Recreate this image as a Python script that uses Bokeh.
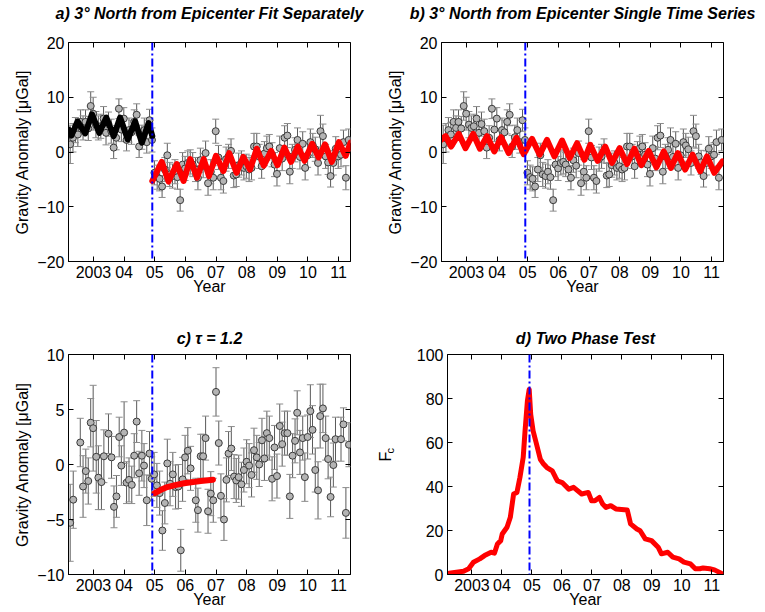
from bokeh.plotting import figure
from bokeh.layouts import column, row
from bokeh.models import (Range1d, FixedTicker, LinearAxis, Span, Whisker,
                          TeeHead, ColumnDataSource)
from bokeh.embed import file_html
from bokeh.resources import INLINE

# ---------------- data ----------------
X_START, X_END = 2002.185, 2011.39
QUAKE = 2004.92

year_ticks = [2003, 2004, 2005, 2006, 2007, 2008, 2009, 2010, 2011]
year_labels = ["2003", "04", "05", "06", "07", "08", "09", "10", "11"]

# monthly gravity anomaly (panels a and b)
t_ab = [2002.24, 2002.33, 2002.41, 2002.49, 2002.58, 2002.66, 2002.74, 2002.83, 2002.91, 2002.99,
        2003.08, 2003.16, 2003.24, 2003.33, 2003.41, 2003.49, 2003.58, 2003.66, 2003.74, 2003.83, 2003.91, 2003.99,
        2004.08, 2004.16, 2004.24, 2004.33, 2004.41, 2004.49, 2004.58, 2004.66, 2004.74, 2004.83, 2004.91, 2004.99,
        2005.08, 2005.16, 2005.24, 2005.33, 2005.41, 2005.49, 2005.58, 2005.66, 2005.74, 2005.83, 2005.91, 2005.99,
        2006.08, 2006.16, 2006.24, 2006.33, 2006.41, 2006.49, 2006.58, 2006.66, 2006.74, 2006.83, 2006.91, 2006.99,
        2007.08, 2007.16, 2007.24, 2007.33, 2007.41, 2007.49, 2007.58, 2007.66, 2007.74, 2007.83, 2007.91, 2007.99,
        2008.08, 2008.16, 2008.24, 2008.33, 2008.41, 2008.49, 2008.58, 2008.66, 2008.74, 2008.83, 2008.91, 2008.99,
        2009.08, 2009.16, 2009.24, 2009.33, 2009.41, 2009.49, 2009.58, 2009.66, 2009.74, 2009.83, 2009.91, 2009.99,
        2010.08, 2010.16, 2010.24, 2010.33, 2010.41, 2010.49, 2010.58, 2010.66, 2010.74, 2010.83, 2010.91, 2010.99,
        2011.08, 2011.16, 2011.24, 2011.33]
g_ab = [1.4, 2.6, 4.0, 3.2, 5.5, 4.4, 5.5, 4.3, 8.4, 7.0,
        5.0, 4.4, 4.7, 6.1, 3.5, 5.1, 3.8, 0.8, 2.6, 7.9, 4.1, 6.1,
        2.2, 4.0, 3.6, 5.5, 6.8, 1.0, 2.7, 4.0, 1.8, 5.8, 2.2, -3.8,
        -4.6, -4.9, -6.3, -3.2, -0.6, -4.1, -4.4, -3.6, -4.6, -8.8, -2.3, -3.0,
        -2.0, -1.8, -2.3, -3.2, -4.7, -1.5, -2.5, -0.2, -5.7, -3.6, -4.7, 3.8,
        -1.0, -4.7, -5.3, -1.3, -0.8, 0.2, -4.3, -4.1, -2.4, -2.0, -2.9, -2.6,
        -3.2, -2.9, 1.0, 1.0, -0.8, -2.6, -0.3, 0.7, 1.0, -0.5, -2.3, -4.0,
        0.7, -1.2, 2.6, 3.0, -3.6, -0.8, 0.4, 2.2, -0.9, 1.5, -2.9, -0.6,
        1.8, 1.2, 0.5, -2.0, 3.8, 2.9, -0.8, -1.9, -4.4, -2.0, 0.6, -0.8,
        -0.5, 1.8, -4.7, 2.2]
e_ab = [3.5, 2.6, 2.3, 2.2, 2.2, 2.2, 2.2, 2.2, 2.6, 3.0,
        2.4, 2.2, 2.2, 2.2, 2.2, 2.2, 2.2, 2.0, 2.2, 1.8, 2.2, 2.0,
        2.0, 2.2, 2.2, 2.2, 2.0, 2.0, 2.2, 2.2, 2.0, 2.0, 2.2, 2.2,
        2.2, 2.2, 2.0, 2.2, 2.2, 2.2, 2.2, 2.2, 2.2, 2.0, 2.2, 2.2,
        2.2, 2.2, 2.2, 2.2, 2.2, 2.2, 2.2, 2.2, 2.2, 2.2, 2.2, 2.2,
        2.2, 2.2, 2.2, 2.2, 2.2, 2.2, 2.2, 2.2, 2.2, 2.2, 2.2, 2.2,
        2.2, 2.2, 2.4, 2.4, 2.2, 2.2, 2.2, 2.2, 2.2, 2.2, 2.2, 2.2,
        2.2, 2.2, 2.2, 2.2, 2.2, 2.2, 2.2, 2.2, 2.2, 2.2, 2.2, 2.2,
        2.4, 2.2, 2.2, 2.2, 2.9, 2.2, 2.2, 2.2, 2.0, 2.2, 2.2, 2.2,
        2.2, 2.2, 2.2, 2.0]

# panel a fits (extrema of fitted curves)
pre_t = [2002.19, 2002.28, 2002.48, 2002.73, 2002.95, 2003.19, 2003.42, 2003.66,
         2003.87, 2004.12, 2004.36, 2004.58, 2004.80, 2004.92]
pre_g = [4.1, 3.0, 5.6, 3.4, 6.9, 3.5, 6.3, 2.9, 6.3, 2.3, 5.6, 1.7, 5.3, 2.9]
post_t = [2004.92, 2005.23, 2005.45, 2005.72, 2005.94, 2006.16, 2006.38, 2006.60, 2006.77,
          2007.00, 2007.24, 2007.43, 2007.67, 2007.89, 2008.11, 2008.33, 2008.56, 2008.80,
          2009.01, 2009.23, 2009.45, 2009.67, 2009.89, 2010.14, 2010.35, 2010.56, 2010.78,
          2011.01, 2011.23, 2011.39]
post_g = [-5.3, -1.8, -5.4, -2.2, -5.3, -1.3, -4.7, -1.3, -4.4,
          -0.7, -3.5, -0.2, -3.8, -0.9, -3.2, 0.6, -2.5, 0.2,
          -2.4, 0.8, -1.8, 1.0, -1.6, 1.5, -1.0, 1.4, -1.8,
          1.8, -0.7, 1.7]

# panel b single series fit (extrema)
single_t = [2002.19, 2002.32, 2002.50, 2002.75, 2002.97, 2003.22, 2003.44, 2003.67, 2003.91,
            2004.13, 2004.38, 2004.63, 2004.87, 2005.14, 2005.39, 2005.63, 2005.87, 2006.12,
            2006.37, 2006.61, 2006.85, 2007.04, 2007.28, 2007.53, 2007.75, 2008.00, 2008.24,
            2008.48, 2008.71, 2008.95, 2009.20, 2009.44, 2009.67, 2009.90, 2010.14, 2010.38,
            2010.63, 2010.85, 2011.09, 2011.36]
single_g = [2.3, 2.9, 1.0, 3.3, 0.7, 3.3, 0.6, 2.9, 0.1,
            2.7, -0.2, 2.6, -0.4, 2.4, -0.5, 2.2, -0.8, 2.1,
            -1.1, 1.6, -1.4, 1.3, -1.6, 1.0, -2.0, 0.7, -2.2,
            0.6, -2.4, 0.2, -2.8, 0.1, -2.9, -0.2, -3.2, -0.5,
            -3.5, -0.8, -3.8, -1.7]

# panel c residuals
t_c = [2002.24, 2002.34, 2002.57, 2002.66, 2002.75, 2002.83, 2002.91, 2002.99, 2003.09, 2003.16,
       2003.26, 2003.34, 2003.49, 2003.59, 2003.67, 2003.75, 2003.84, 2003.91, 2004.00, 2004.08,
       2004.16, 2004.25, 2004.33, 2004.41, 2004.49, 2004.58, 2004.65, 2004.74, 2004.83, 2004.90,
       2004.98, 2005.07, 2005.16, 2005.25, 2005.33, 2005.41, 2005.50, 2005.59, 2005.68, 2005.77,
       2005.85, 2005.91, 2005.99, 2006.08, 2006.17, 2006.34, 2006.41, 2006.50, 2006.58, 2006.66,
       2006.74, 2006.83, 2006.91, 2007.00, 2007.09, 2007.16, 2007.26, 2007.34, 2007.41, 2007.50,
       2007.59, 2007.66, 2007.74, 2007.83, 2007.91, 2008.00, 2008.08, 2008.16, 2008.24, 2008.33,
       2008.41, 2008.50, 2008.58, 2008.66, 2008.74, 2008.83, 2008.91, 2008.99, 2009.08, 2009.16,
       2009.24, 2009.33, 2009.41, 2009.50, 2009.58, 2009.65, 2009.74, 2009.83, 2009.90, 2009.99,
       2010.08, 2010.15, 2010.24, 2010.33, 2010.40, 2010.49, 2010.58, 2010.66, 2010.74, 2010.83,
       2010.90, 2011.08, 2011.16, 2011.24, 2011.34]
g_c = [-5.3, -3.2, 2.0, -2.0, -0.6, -1.5, 3.8, 3.3, 0.7, -1.2,
       -1.6, 0.75, 2.8, 0.65, -3.85, -2.9, 2.5, -0.1, 2.9, -1.65,
       -1.4, -1.85, 0.8, 3.9, -0.8, 0.8, -0.1, -3.25, 1.0, -1.3,
       -0.9, -1.9, -2.6, -6.0, -3.5, 0.1, -1.75, -0.9, -2.05, -2.0,
       -7.8, -1.35, 0.65, 1.25, -0.35, -3.25, -4.15, 0.75, 0.75, 2.4,
       -4.25, -2.65, -3.25, 6.6, 1.95, -2.85, -5.0, -1.4, 1.0, 1.45,
       -1.1, -1.45, -1.15, -1.8, -0.5, 0.25, -0.1, -0.95, 1.3, 0.65,
       0.0, 2.2, 0.55, 2.85, 2.4, -1.3, 1.55, -1.05, 3.5, 1.85,
       2.85, 2.85, -2.9, 0.8, 2.15, 4.7, 1.1, 2.4, -1.15, 2.5,
       4.85, 3.15, -0.5, -2.35, 4.4, 5.1, 2.4, 0.5, -2.95, -0.05,
       2.3, 2.3, 3.65, -4.4, 1.8]
e_c = [3.5, 2.6, 2.2, 2.8, 2.0, 2.1, 2.2, 3.9, 3.3, 2.9,
       2.5, 2.4, 1.8, 1.9, 1.9, 1.9, 1.8, 1.8, 2.8, 1.9,
       2.0, 1.7, 2.0, 1.9, 2.0, 2.3, 2.0, 2.3, 2.0, 2.0,
       2.0, 2.0, 2.0, 1.8, 1.9, 2.2, 2.0, 2.0, 2.0, 2.0,
       1.9, 2.0, 2.0, 2.1, 2.0, 2.0, 2.0, 2.0, 2.0, 2.0,
       2.0, 2.0, 2.0, 2.2, 2.0, 2.0, 1.9, 2.0, 2.0, 2.0,
       2.0, 2.0, 2.0, 2.0, 2.0, 2.0, 2.0, 2.0, 2.0, 2.0,
       2.0, 2.0, 2.0, 2.0, 2.0, 2.0, 2.0, 2.0, 2.0, 2.0,
       2.0, 2.0, 2.0, 2.0, 2.0, 2.0, 2.0, 2.0, 2.2, 2.0,
       2.4, 2.2, 2.0, 2.6, 2.9, 2.2, 2.0, 1.8, 1.8, 2.0,
       2.0, 2.0, 1.5, 2.3, 2.0]
relax_t = [2005.00, 2005.20, 2005.41, 2005.70, 2005.96, 2006.25, 2006.50, 2006.90]
relax_g = [-2.6, -2.3, -2.05, -1.85, -1.7, -1.6, -1.5, -1.38]

# panel d two phase test statistic
fc_t = [2002.24, 2002.72, 2002.89, 2003.05, 2003.26, 2003.42, 2003.64, 2003.75, 2003.85, 2003.96,
        2004.01, 2004.17, 2004.28, 2004.39, 2004.50, 2004.60, 2004.71, 2004.77, 2004.85, 2004.91,
        2004.96, 2005.04, 2005.14, 2005.28, 2005.39, 2005.50, 2005.68, 2005.79, 2005.85, 2006.01,
        2006.23, 2006.39, 2006.66, 2006.88, 2006.99, 2007.10, 2007.25, 2007.36, 2007.47, 2007.63,
        2007.80, 2008.18, 2008.29, 2008.50, 2008.61, 2008.78, 2008.99, 2009.21, 2009.32, 2009.53,
        2009.70, 2009.91, 2010.07, 2010.29, 2010.45, 2010.60, 2010.71, 2010.93, 2011.09, 2011.31]
fc_v = [0.6, 1.5, 2.6, 5.6, 7.1, 8.6, 10.1, 9.7, 13.9, 15.4,
        18.4, 21.5, 26.0, 36.6, 37.3, 44.1, 53.2, 65.0, 78.9, 84.1,
        72.8, 65.3, 60.0, 52.4, 50.2, 48.6, 47.1, 44.1, 42.6, 41.8,
        38.8, 39.6, 36.6, 37.3, 33.5, 33.5, 35.0, 32.0, 30.5, 31.3,
        29.8, 29.3, 23.0, 20.7, 19.9, 16.2, 15.4, 12.4, 9.4, 10.1,
        7.9, 7.1, 5.6, 4.8, 2.6, 2.6, 3.0, 2.6, 2.1, 0.6]

# ---------------- styling helpers ----------------
FONT = "Liberation Sans"
TICK_FS = "16px"
LABEL_FS = "16px"


def minus(v):
    return ("\u2212" + str(abs(v))) if v < 0 else str(v)


def make_fig(title, yr, yticks, width, height, left, right, top, bottom, ylabel,
             title_gap):
    p = figure(width=width, height=height, title=title,
               x_range=Range1d(X_START, X_END), y_range=Range1d(*yr),
               output_backend="svg", toolbar_location=None,
               min_border_left=left, min_border_right=right,
               min_border_top=top, min_border_bottom=bottom,
               background_fill_color="white", border_fill_color="white")
    p.grid.visible = False
    p.outline_line_color = "black"
    p.outline_line_width = 1
    p.title.text_font = FONT
    p.title.text_font_style = "bold italic"
    p.title.text_font_size = "16px"
    p.title.text_color = "black"
    p.title.align = "center"
    p.title.standoff = 4 if title_gap else 15

    xa = p.xaxis[0]
    xa.ticker = FixedTicker(ticks=year_ticks)
    xa.major_label_overrides = {k: lab for k, lab in zip(year_ticks, year_labels)}
    ya = p.yaxis[0]
    ya.ticker = FixedTicker(ticks=yticks)
    ya.major_label_overrides = {k: minus(k) for k in yticks}
    for ax in (xa, ya):
        ax.major_tick_in = 5
        ax.major_tick_out = 0
        ax.minor_tick_line_color = None
        ax.axis_line_color = "black"
        ax.major_tick_line_color = "black"
        ax.major_label_text_font = FONT
        ax.major_label_text_font_size = TICK_FS
        ax.major_label_text_color = "black"
        ax.major_label_standoff = 4
        ax.axis_label_text_font = FONT
        ax.axis_label_text_font_size = LABEL_FS
        ax.axis_label_text_font_style = "normal"
        ax.axis_label_text_color = "black"
    xa.axis_label = "Year"
    xa.axis_label_standoff = -3
    ya.axis_label = ylabel
    ya.axis_label_standoff = 3

    # tick marks on the top and right of the box (no labels)
    top_ax = LinearAxis(ticker=FixedTicker(ticks=year_ticks), major_tick_in=5,
                        major_tick_out=0, minor_tick_line_color=None,
                        major_label_text_font_size="0px",
                        major_label_text_color=None,
                        axis_line_color=None, major_label_standoff=0)
    if title_gap:
        # invisible spacer label that keeps the title clear of the box
        top_ax.axis_label = "Year"
        top_ax.axis_label_text_color = None
        top_ax.axis_label_text_font_size = "12px"
        top_ax.axis_label_standoff = 2
    right_ax = LinearAxis(ticker=FixedTicker(ticks=yticks), major_tick_in=5,
                          major_tick_out=0, minor_tick_line_color=None,
                          major_label_text_font_size="0px",
                          major_label_text_color=None,
                          axis_line_color=None, major_label_standoff=0)
    p.add_layout(top_ax, "above")
    p.add_layout(right_ax, "right")

    p.add_layout(Span(location=QUAKE, dimension="height", line_color="blue",
                      line_width=2, line_dash="8 3 2 3"))
    return p


def add_points(p, t, g, e):
    src = ColumnDataSource(dict(x=t, y=g,
                                lo=[a - b for a, b in zip(g, e)],
                                hi=[a + b for a, b in zip(g, e)]))
    p.add_layout(Whisker(source=src, base="x", lower="lo", upper="hi",
                         line_color="#5a5a5a", line_width=1,
                         upper_head=TeeHead(size=7, line_color="#8c8c8c", line_width=1),
                         lower_head=TeeHead(size=7, line_color="#8c8c8c", line_width=1)))
    p.scatter("x", "y", source=src, size=7, marker="circle",
              fill_color="#b4b4b4", line_color="#3a3a3a", line_width=1)


GL = "Gravity Anomaly [\u03bcGal]"

pa = make_fig("a) 3\u00b0 North from Epicenter Fit Separately", (-20, 20),
              [-20, -10, 0, 10, 20], 378, 320, 68, 28, 41, 59, GL, True)
add_points(pa, t_ab, g_ab, e_ab)
pa.line(pre_t, pre_g, line_color="black", line_width=6, line_join="round", line_cap="round")
pa.line(post_t, post_g, line_color="red", line_width=6, line_join="round", line_cap="round")

pb = make_fig("b) 3\u00b0 North from Epicenter Single Time Series", (-20, 20),
              [-20, -10, 0, 10, 20], 387, 320, 63, 42, 41, 59, GL, True)
add_points(pb, t_ab, g_ab, e_ab)
pb.line(single_t, single_g, line_color="red", line_width=6, line_join="round", line_cap="round")

pc = make_fig("c) \u03c4 = 1.2", (-10, 10), [-10, -5, 0, 5, 10],
              373, 292, 68, 23, 33, 38, GL, False)
add_points(pc, t_c, g_c, e_c)
pc.line(relax_t, relax_g, line_color="red", line_width=6, line_cap="round")

# panel d: y label F with subscript c (c on the main axis, F on an outer axis)
pd_ = make_fig("d) Two Phase Test", (0, 100), [0, 20, 40, 60, 80, 100],
               392, 292, 67, 42, 33, 38, "\u2003\u2003\u2002c", False)
pd_.yaxis[0].axis_label_text_font_size = "11px"
pd_.yaxis[0].axis_label_standoff = 18
pd_.add_layout(LinearAxis(ticker=FixedTicker(ticks=[]), axis_label="\u2003F",
                          axis_label_standoff=-13, axis_label_text_font=FONT,
                          axis_label_text_font_size="16px",
                          axis_label_text_font_style="normal",
                          axis_label_text_color="black",
                          axis_line_color=None, major_tick_in=0, major_tick_out=0,
                          minor_tick_line_color=None,
                          major_label_text_font_size="0px",
                          major_label_text_color=None), "left")
pd_.line(fc_t, fc_v, line_color="red", line_width=5, line_join="round", line_cap="round")

layout = column(row(pa, pb), row(pc, pd_))

html = file_html(layout, INLINE)
html = html.replace("<head>", "<head><style>html,body{overflow:hidden;}</style>", 1)
open("out.html", "w").write(html)
